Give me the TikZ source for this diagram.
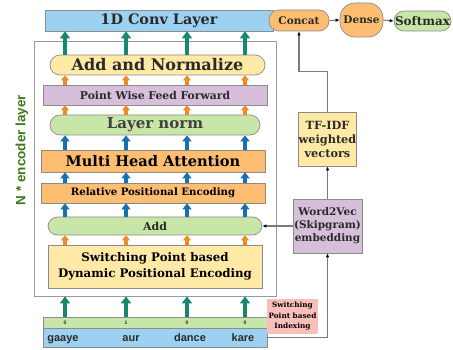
\documentclass[tikz,border=0pt]{standalone}
\usepackage{fontspec}
\setmainfont{DejaVu Serif}
\setsansfont{Liberation Sans}
\usetikzlibrary{arrows.meta,calc}
\definecolor{lblue}{HTML}{9DD1F1}
\definecolor{lyellow}{HTML}{FFE9A6}
\definecolor{lav}{HTML}{D7BEDB}
\definecolor{lgreen}{HTML}{C8E6A8}
\definecolor{lorange}{HTML}{FDBE72}
\definecolor{lpink}{HTML}{F9C0BA}
\definecolor{bordergray}{HTML}{8C8C8C}
\definecolor{framegray}{HTML}{9A9A9A}
\definecolor{tealarrow}{HTML}{17876F}
\definecolor{orangearrow}{HTML}{F08A24}
\definecolor{bluearrow}{HTML}{1A6FB0}
\definecolor{encgreen}{HTML}{3D7A17}
\definecolor{txt}{HTML}{2A2A2A}
\definecolor{conngray}{HTML}{7A7A7A}
\begin{document}
\begin{tikzpicture}[x=1pt,y=-1pt,
  box/.style={draw=bordergray, line width=0.7pt, inner sep=0pt, align=center, text=txt, font=\bfseries},
  pill/.style={box, rounded corners=9.5pt},
  garrow/.style={line width=4.5pt, draw=tealarrow, -{Triangle[width=10pt,length=7pt]}},
  barrow/.style={line width=4pt, draw=bluearrow, -{Triangle[width=9pt,length=6pt]}},
  oarrow/.style={line width=3.5pt, draw=orangearrow, -{Triangle[width=8pt,length=5pt]}},
  conn/.style={draw=conngray, line width=1.1pt, -{Latex[length=4pt,width=3.5pt,black]}},
  word/.style={font=\sffamily\bfseries\fontsize{11}{12}\selectfont, text=txt, inner sep=0pt, anchor=base},
  idxnum/.style={font=\sffamily\bfseries\fontsize{5}{6}\selectfont, text=txt, inner sep=0pt}
]
\useasboundingbox (0,0) rectangle (453,350);

% column coordinates
\coordinate (c1) at (65,0);
\coordinate (c2) at (126,0);
\coordinate (c3) at (187,0);
\coordinate (c4) at (245,0);

% encoder frame
\node[draw=framegray, line width=0.8pt, fill=white, minimum width=242pt, minimum height=255pt, inner sep=0pt] (enc) at (155,168.5) {};

% boxes
\node[box, fill=lblue, minimum width=228pt, minimum height=21pt, font=\bfseries\fontsize{14.4}{16}\selectfont] (conv) at (159,20.5) {1D Conv Layer};
\node[pill, rounded corners=10pt, fill=lyellow, minimum width=215pt, minimum height=20pt, font=\bfseries\fontsize{16}{18}\selectfont] (addnorm) at (157.5,65) {Add and Normalize};
\node[box, fill=lav, minimum width=224pt, minimum height=20pt, font=\bfseries\fontsize{10.8}{12}\selectfont] (pwff) at (155,95) {Point Wise Feed Forward};
\node[pill, rounded corners=10pt, fill=lgreen, minimum width=210pt, minimum height=20pt, font=\bfseries\fontsize{15}{17}\selectfont, text=black!75] (lnorm) at (155,125) {Layer norm};
\node[box, fill=lorange, minimum width=224pt, minimum height=22pt, font=\bfseries\fontsize{14.6}{16}\selectfont, text=black] (mha) at (153,161) {Multi Head Attention};
\node[box, fill=lorange, minimum width=224pt, minimum height=20pt, font=\bfseries\fontsize{10.2}{12}\selectfont, text=black] (rpe) at (153,193) {Relative Positional Encoding};
\node[pill, fill=lgreen, minimum width=214pt, minimum height=18pt, font=\bfseries\fontsize{11}{12}\selectfont] (add) at (155,226) {Add};
\node[box, fill=lyellow, minimum width=214pt, minimum height=43pt, font=\bfseries\fontsize{11.8}{16}\selectfont, text=black] (spd) at (155,266.5) {Switching Point based\\Dynamic Positional Encoding};

% input rows
\node[box, fill=lgreen, minimum width=224pt, minimum height=11pt] (idx) at (155,322.5) {};
\node[box, fill=lblue, minimum width=224pt, minimum height=19pt] (words) at (155,337.5) {};
\node[idxnum] (i1) at (c1 |- idx.center) {0};
\node[idxnum] (i2) at (c2 |- idx.center) {1};
\node[idxnum] (i3) at (c3 |- idx.center) {0};
\node[idxnum] (i4) at (c4 |- idx.center) {0};
\node[word] (w1) at (63,341) {gaaye};
\node[word] (w2) at (131,341) {aur};
\node[word] (w3) at (190,341) {dance};
\node[word] (w4) at (243,341) {kare};

\node[box, draw=none, fill=lpink, minimum width=51pt, minimum height=35pt, font=\bfseries\fontsize{7.3}{10.5}\selectfont, text=black] (pink) at (292.5,316.5) {Switching\\Point based\\Indexing};

% right side
\node[box, fill=lav, minimum width=69pt, minimum height=54pt, font=\bfseries\fontsize{10.5}{13}\selectfont] (w2v) at (327.5,226) {Word2Vec\\(Skipgram)\\embedding};
\node[box, fill=lyellow, minimum width=57pt, minimum height=54pt, font=\bfseries\fontsize{11.3}{14}\selectfont] (tfidf) at (327.5,139) {TF-IDF\\weighted\\vectors};
\node[pill, rounded corners=10pt, fill=lorange, minimum width=60pt, minimum height=21pt, font=\bfseries\fontsize{10.5}{12}\selectfont] (concat) at (299,20.5) {Concat};
\node[box, rounded corners=15pt, fill=lorange, minimum width=43pt, minimum height=34pt, font=\bfseries\fontsize{10.5}{12}\selectfont] (dense) at (361.5,20) {Dense};
\node[pill, rounded corners=10pt, fill=lgreen, minimum width=57pt, minimum height=20pt, font=\bfseries\fontsize{12}{13}\selectfont] (softmax) at (422.5,21) {Softmax};

% encoder label
\node[rotate=90, font=\sffamily\bfseries\fontsize{13.5}{14}\selectfont, text=encgreen, inner sep=0pt] (enclabel) at (22,150) {N * encoder layer};

% column arrows
\foreach \c in {c1,c2,c3,c4} {
  \draw[garrow] (\c |- idx.north) -- (\c |- enc.south);
  \draw[oarrow] (\c |- spd.north) -- (\c |- add.south);
  \draw[barrow] (\c |- add.north) -- (\c |- rpe.south);
  \draw[barrow] (\c |- rpe.north) -- (\c |- mha.south);
  \draw[barrow] (\c |- mha.north) -- (\c |- lnorm.south);
  \draw[oarrow] (\c |- lnorm.north) -- (\c |- pwff.south);
  \draw[oarrow] (\c |- pwff.north) -- (\c |- addnorm.south);
}
\foreach \c in {c1,c2,c3,c4} {
  \draw[garrow] (\c |- addnorm.north) -- (\c |- conv.south);
}

% connectors
\draw[conn] (words.east) -| (w2v.south);
\draw[conn] (w2v.west) -- (add.east);
\draw[conn] (w2v.north) -- (tfidf.south);
\draw[conn] (tfidf.north) -- ++(0,-40) -| (concat.south);
\draw[conn] (concat.east) -- (dense.west);
\draw[conn] (dense.east) -- (softmax.west);
\end{tikzpicture}
\end{document}
